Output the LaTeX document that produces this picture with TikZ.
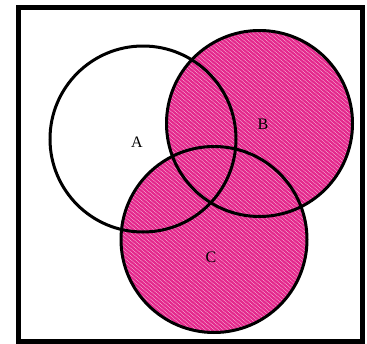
\documentclass[tikz,border=0pt]{standalone}
\usepackage{fontspec}
\setmainfont{Liberation Serif}
\usetikzlibrary{positioning}

\definecolor{hatchpink}{RGB}{228,40,140}
\definecolor{lightpink}{RGB}{248,200,226}

\begin{document}
\begin{tikzpicture}[
      x=1pt,y=-1pt,
      every node/.style={font=\fontsize{16}{18}\selectfont},
      frame/.style={draw=black,line width=5pt},
      ring/.style={draw=black,line width=3pt},
      hatch/.style={draw=hatchpink,line width=2.3pt,line cap=round},
      lbl/.style={inner sep=0pt}
    ]
    \useasboundingbox (0,0) rectangle (367,343);
    % centres of the three sets
    \coordinate (cA) at (143,139);
    \coordinate (cB) at (259.5,123.5);
    \coordinate (cC) at (214,239.5);
    % shaded region: B union C
    \begin{scope}
      \clip (cB) circle (93) (cC) circle (93);
      \fill[lightpink] (100,20) rectangle (360,340);
      \foreach \k in {-300,-295.5,...,360}{\draw[hatch] (\k,20) -- ++(380,320);}
    \end{scope}
    % universe
    \draw[frame] (18.5,7) rectangle (362,341);
    % circles
    \draw[ring] (cA) circle (93);
    \draw[ring] (cB) circle (93);
    \draw[ring] (cC) circle (93);
    % labels
    \node[lbl] (A) at (137,142) {A};
    \node[lbl] (B) at (263,124) {B};
    \node[lbl] (C) at (211,257) {C};
  \end{tikzpicture}
\end{document}
